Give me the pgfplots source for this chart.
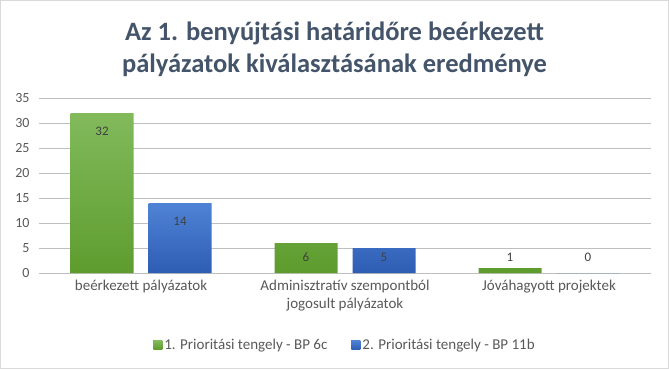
\documentclass[border=0pt]{standalone}
\usepackage{pgfplots}
\pgfplotsset{compat=1.18}
\usepackage{fontspec}
\setmainfont{Carlito}
\definecolor{titlec}{HTML}{44546A}
\definecolor{txt}{HTML}{595959}
\definecolor{grid}{HTML}{D9D9D9}
\definecolor{gtop}{HTML}{82BA5C}
\definecolor{gbot}{HTML}{5E9C2E}
\definecolor{gmid}{HTML}{70AD47}
\definecolor{btop}{HTML}{4F83D6}
\definecolor{bbot}{HTML}{2E5DB3}
\definecolor{bmid}{HTML}{4472C4}
\begin{document}
\begin{tikzpicture}[x=1bp,y=1bp]
\fill[white] (0,0) rectangle (669,369);
\draw[grid, line width=1bp] (0.5,0.5) rectangle (668.5,368.5);
\node[align=center, font=\fontsize{26.5bp}{32bp}\selectfont\bfseries, text=titlec] at (334.5,320) {Az 1. benyújtási határidőre beérkezett\\pályázatok kiválasztásának eredménye};
\begin{axis}[
  at={(39bp,96bp)}, anchor=south west,
  scale only axis, width=612bp, height=175bp,
  xmin=-0.5, xmax=2.5, ymin=0, ymax=35,
  ytick={0,5,...,35},
  xtick={0,1,2},
  xticklabels={beérkezett pályázatok,{Adminisztratív szempontból\\jogosult pályázatok},Jóváhagyott projektek},
  xticklabel style={align=center, font=\fontsize{15bp}{18bp}\selectfont, text=txt, yshift=-4bp},
  yticklabel style={font=\fontsize{14bp}{16bp}\selectfont, text=txt, xshift=-6bp},
  /pgf/number format/assume math mode=true,
  major tick length=0pt,
  axis line style={draw=none},
  xmajorgrids=false, ymajorgrids, grid style={grid, line width=1bp},
  ybar=15bp, bar width=63bp,
  nodes near coords,
  visualization depends on={y \as \rawy},
  every node near coord/.append style={anchor=center, font=\fontsize{13bp}{15bp}\selectfont, text=black!75,
     yshift={5*(max(\rawy-3.6,3.2)-\rawy)}},
  legend style={at={(axis description cs:0.5,-0.411)}, anchor=center, draw=none, legend columns=2,
     font=\fontsize{15bp}{17bp}\selectfont, text=txt,
     /tikz/every even column/.append style={column sep=22bp}},
  legend cell align=left,
]
\addplot[draw=none, top color=gtop, bottom color=gbot,
  legend image code/.code={\fill[gmid] (0bp,-4.5bp) rectangle (9bp,4.5bp);}]
  coordinates {(0,32) (1,6) (2,1)};
\addlegendentry{1. Prioritási tengely - BP 6c}
\addplot[draw=none, top color=btop, bottom color=bbot,
  legend image code/.code={\fill[bmid] (0bp,-4.5bp) rectangle (9bp,4.5bp);}]
  coordinates {(0,14) (1,5) (2,0)};
\addlegendentry{2. Prioritási tengely - BP 11b}
\end{axis}
\end{tikzpicture}
\end{document}
